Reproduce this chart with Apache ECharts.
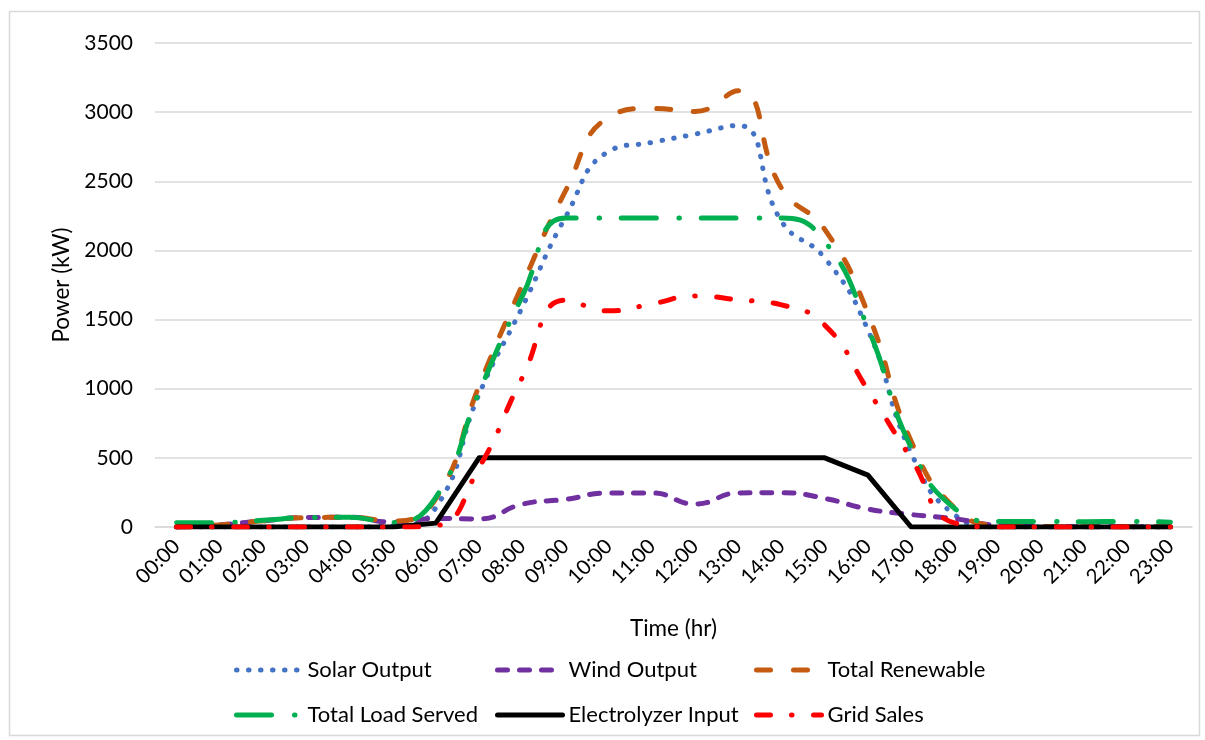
<!DOCTYPE html>
<html>
<head>
<meta charset="utf-8">
<script src="https://cdn.jsdelivr.net/npm/echarts@6/dist/echarts.min.js"></script>
<style>
html,body{margin:0;padding:0;background:#fff;}
#chart{width:1205px;height:740px;}
</style>
</head>
<body>
<div id="chart"></div>
<script>
const hours = ['00:00','01:00','02:00','03:00','04:00','05:00','06:00','07:00','08:00','09:00','10:00','11:00','12:00','13:00','14:00','15:00','16:00','17:00','18:00','19:00','20:00','21:00','22:00','23:00'];
const yTicks = [0, 500, 1000, 1500, 2000, 2500, 3000, 3500];
const solarOutput     = [0, 0, 0, 0, 0, 8, 140, 960, 1590, 2240, 2716, 2781, 2841, 2904, 2210, 1945, 1425, 535, 90, 0, 0, 0, 0, 0];
const windOutput      = [0, 15, 45, 68, 70, 35, 62, 58, 165, 200, 246, 246, 166, 246, 248, 207, 130, 90, 60, 12, 3, 2, 2, 2];
const totalRenewable  = [0, 15, 45, 68, 70, 42, 205, 1020, 1750, 2430, 2962, 3027, 3005, 3155, 2450, 2152, 1545, 620, 140, 12, 3, 2, 2, 2];
const totalLoadServed = [30, 32, 48, 68, 70, 32, 215, 975, 1667, 2235, 2235, 2235, 2235, 2235, 2235, 2065, 1440, 575, 136, 40, 40, 38, 40, 35];
const electrolyzerInput = [0, 0, 0, 0, 0, 0, 28, 500, 500, 500, 500, 500, 500, 500, 500, 500, 375, 0, 0, 0, 0, 0, 0, 0];
const gridSales       = [0, 0, 0, 0, 0, 0, 10, 430, 1080, 1640, 1563, 1613, 1671, 1643, 1606, 1460, 990, 495, 30, 0, 0, 0, 0, 0];

const seriesNames = ['Solar Output','Wind Output','Total Renewable','Total Load Served','Electrolyzer Input','Grid Sales'];
const seriesColors = ['#4472C4', '#7030A0', '#C55A11', '#00B050', '#000000', '#FF0000'];
const seriesDash = [[0.5, 11.5], [10, 12], [14, 23], [35, 23, 0.5, 21.5], 'solid', [14, 21, 0.5, 21.5]];
const FONT = 'Lato';

const chart = echarts.init(document.getElementById('chart'), null, {renderer:'canvas'});

function lineSeries(i, data, smooth) {
  return {
    name: seriesNames[i], type: 'line', data: data, smooth: smooth,
    symbol: 'none', showSymbol: false, z: 2 + i,
    lineStyle: { color: seriesColors[i], width: 5, type: seriesDash[i], cap: 'round', join: 'round' },
    itemStyle: { color: seriesColors[i] },
    emphasis: { disabled: true },
    animation: false
  };
}

const legendPos = [
  {left: 229, top: 654}, {left: 490, top: 654}, {left: 749, top: 654},
  {left: 229, top: 699}, {left: 490, top: 699}, {left: 749, top: 699}
];

const option = {
  backgroundColor: '#ffffff',
  animation: false,
  graphic: [{
    type: 'rect', left: 7, top: 9, z: -1,
    shape: { width: 1190, height: 724 },
    style: { fill: 'none', stroke: '#D9D9D9', lineWidth: 1.5 }
  }],
  grid: { left: 155, right: 13, top: 43, bottom: 213, containLabel: false },
  legend: seriesNames.map((n, i) => ({
    data: [n], left: legendPos[i].left, top: legendPos[i].top,
    itemWidth: 65, itemHeight: 20, selectedMode: false,
    itemStyle: { opacity: 0, borderWidth: 0 },
    lineStyle: { color: seriesColors[i], width: 5, type: seriesDash[i], cap: 'round', join: 'round' },
    textStyle: { fontFamily: FONT, fontSize: 22, color: '#000', padding: [0, 0, 0, 1] }
  })),
  xAxis: {
    type: 'category', data: hours, boundaryGap: true,
    name: 'Time (hr)', nameLocation: 'middle', nameGap: 90,
    nameTextStyle: { fontFamily: FONT, fontSize: 22.5, color: '#000' },
    axisLine: { show: true, lineStyle: { color: '#D9D9D9', width: 1.5 } },
    axisTick: { show: false },
    axisLabel: { rotate: 45, margin: 16, interval: 0, fontFamily: FONT, fontSize: 20.5, color: '#000' },
    splitLine: { show: false }
  },
  yAxis: {
    type: 'value', min: yTicks[0], max: yTicks[yTicks.length - 1], interval: yTicks[1] - yTicks[0],
    name: 'Power (kW)', nameLocation: 'middle', nameGap: 80, nameRotate: 90,
    nameTextStyle: { fontFamily: FONT, fontSize: 22.5, color: '#000' },
    axisLine: { show: false }, axisTick: { show: false },
    axisLabel: { margin: 22, fontFamily: FONT, fontSize: 21, color: '#000', formatter: v => String(v) },
    splitLine: { lineStyle: { color: '#D9D9D9', width: 1.5 } }
  },
  series: [
    lineSeries(0, solarOutput, true),
    lineSeries(1, windOutput, true),
    lineSeries(2, totalRenewable, true),
    lineSeries(3, totalLoadServed, true),
    lineSeries(4, electrolyzerInput, false),
    lineSeries(5, gridSales, true)
  ]
};
chart.setOption(option);
</script>
</body>
</html>
